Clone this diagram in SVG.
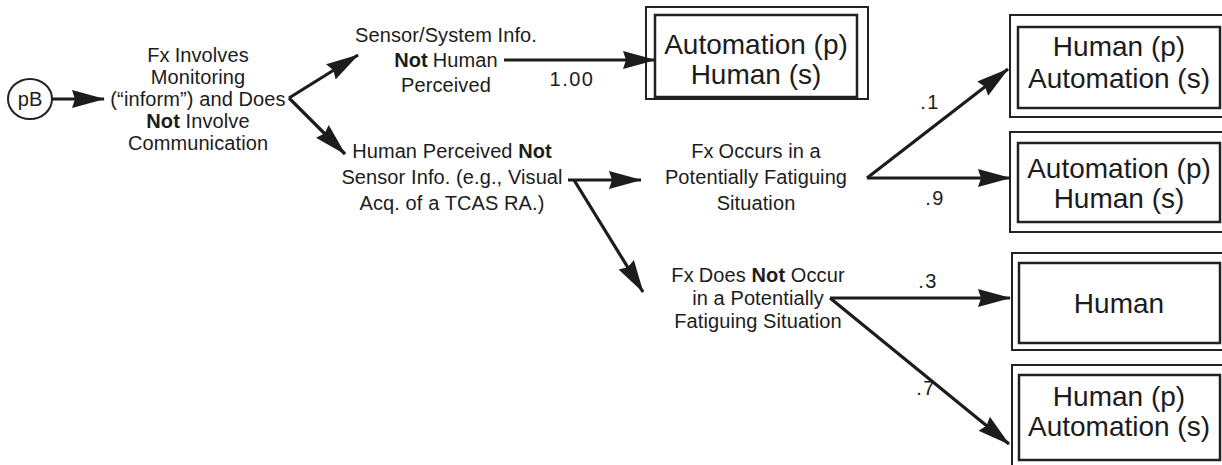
<svg xmlns="http://www.w3.org/2000/svg" width="1222" height="465" viewBox="0 0 1222 465">
  <style>
    text { font-family: "Liberation Sans", Arial, Helvetica, sans-serif; fill: #1c1c1c; }
    .lbl { font-size: 20px; letter-spacing: 0.1px; text-anchor: middle; }
    .box { font-size: 28px; text-anchor: middle; }
    .num { font-size: 20px; letter-spacing: 1.5px; text-anchor: middle; }
    .b { font-weight: bold; }
    .outer { fill: #fff; stroke: #222; stroke-width: 2; }
    .inner { fill: #fff; stroke: #222; stroke-width: 2.5; }
    .edge { fill: none; stroke: #1c1c1c; stroke-width: 3.2; marker-end: url(#head); }
  </style>
  <defs>
    <marker id="head" markerUnits="userSpaceOnUse" markerWidth="36" markerHeight="20" refX="32" refY="9" orient="auto">
      <path d="M0,0 L33,9 L0,18 L3,9 z" fill="#1c1c1c"/>
    </marker>
  </defs>
  <rect width="1222" height="465" fill="#fff"/>

  <!-- start node -->
  <g id="start">
    <ellipse cx="30" cy="99" rx="22" ry="20" fill="#fff" stroke="#222" stroke-width="2"/>
    <text class="lbl" x="30" y="106">pB</text>
  </g>

  <!-- decision and outcome labels -->
  <g id="monitoring">
    <text class="lbl" x="198" y="62">Fx<tspan dx="5">Involves</tspan></text>
    <text class="lbl" x="198" y="84">Monitoring</text>
    <text class="lbl" x="198" y="106">(“inform”) and Does</text>
    <text class="lbl" x="198" y="128"><tspan class="b">Not</tspan> Involve</text>
    <text class="lbl" x="198" y="150">Communication</text>
  </g>

  <g id="sensor-info">
    <text class="lbl" x="446" y="42">Sensor/System Info.</text>
    <text class="lbl" x="446" y="67"><tspan class="b">Not</tspan><tspan dx="5">Human</tspan></text>
    <text class="lbl" x="446" y="92">Perceived</text>
  </g>

  <g id="human-perceived">
    <text class="lbl" x="452" y="158">Human Perceived <tspan class="b">Not</tspan></text>
    <text class="lbl" x="452" y="184">Sensor Info. (e.g., Visual</text>
    <text class="lbl" x="452" y="210">Acq. of a TCAS RA.)</text>
  </g>

  <g id="fatiguing">
    <text class="lbl" x="756" y="158">Fx<tspan dx="5">Occurs in a</tspan></text>
    <text class="lbl" x="756" y="184">Potentially Fatiguing</text>
    <text class="lbl" x="756" y="210">Situation</text>
  </g>

  <g id="not-fatiguing">
    <text class="lbl" x="758" y="282">Fx<tspan dx="5">Does </tspan><tspan class="b">Not</tspan> Occur</text>
    <text class="lbl" x="758" y="305">in a Potentially</text>
    <text class="lbl" x="758" y="328">Fatiguing Situation</text>
  </g>

  <!-- allocation boxes (double border) -->
  <g id="auto-human-1">
    <rect class="outer" x="646" y="7" width="222" height="92"/>
    <rect class="inner" x="655" y="15" width="202" height="82"/>
    <text class="box" x="756" y="54">Automation (p)</text>
    <text class="box" x="756" y="84">Human (s)</text>
  </g>

  <g id="human-auto-1">
    <rect class="outer" x="1010" y="15" width="240" height="102"/>
    <rect class="inner" x="1018" y="27" width="202" height="81"/>
    <text class="box" x="1119" y="56">Human (p)</text>
    <text class="box" x="1119" y="88">Automation (s)</text>
  </g>

  <g id="auto-human-2">
    <rect class="outer" x="1010" y="132" width="240" height="100"/>
    <rect class="inner" x="1018" y="143" width="202" height="79"/>
    <text class="box" x="1119" y="178">Automation (p)</text>
    <text class="box" x="1119" y="208">Human (s)</text>
  </g>

  <g id="human">
    <rect class="outer" x="1012" y="253" width="240" height="97"/>
    <rect class="inner" x="1019" y="263" width="201" height="80"/>
    <text class="box" x="1119" y="313">Human</text>
  </g>

  <g id="human-auto-2">
    <rect class="outer" x="1012" y="365" width="240" height="110"/>
    <rect class="inner" x="1019" y="375" width="201" height="85"/>
    <text class="box" x="1119" y="406">Human (p)</text>
    <text class="box" x="1119" y="436">Automation (s)</text>
  </g>

  <!-- connectors -->
  <g id="connectors">
    <line class="edge" x1="52" y1="99" x2="104" y2="99"/>
    <line class="edge" x1="289" y1="98" x2="358" y2="55"/>
    <line class="edge" x1="289" y1="98" x2="345" y2="154"/>
    <line class="edge" x1="504" y1="60" x2="655" y2="60"/>
    <line class="edge" x1="568" y1="180" x2="641" y2="180"/>
    <line class="edge" x1="574" y1="180" x2="643" y2="292"/>
    <line class="edge" x1="867" y1="178" x2="1008" y2="69"/>
    <line class="edge" x1="867" y1="178" x2="1010" y2="178"/>
    <line class="edge" x1="830" y1="298" x2="1010" y2="298"/>
    <line class="edge" x1="830" y1="298" x2="1009" y2="444"/>
    <text class="num" x="572" y="86">1.00</text>
    <text class="num" x="930" y="109">.1</text>
    <text class="num" x="935" y="205">.9</text>
    <text class="num" x="928" y="288">.3</text>
    <text class="num" x="926" y="395">.7</text>
  </g>
</svg>
